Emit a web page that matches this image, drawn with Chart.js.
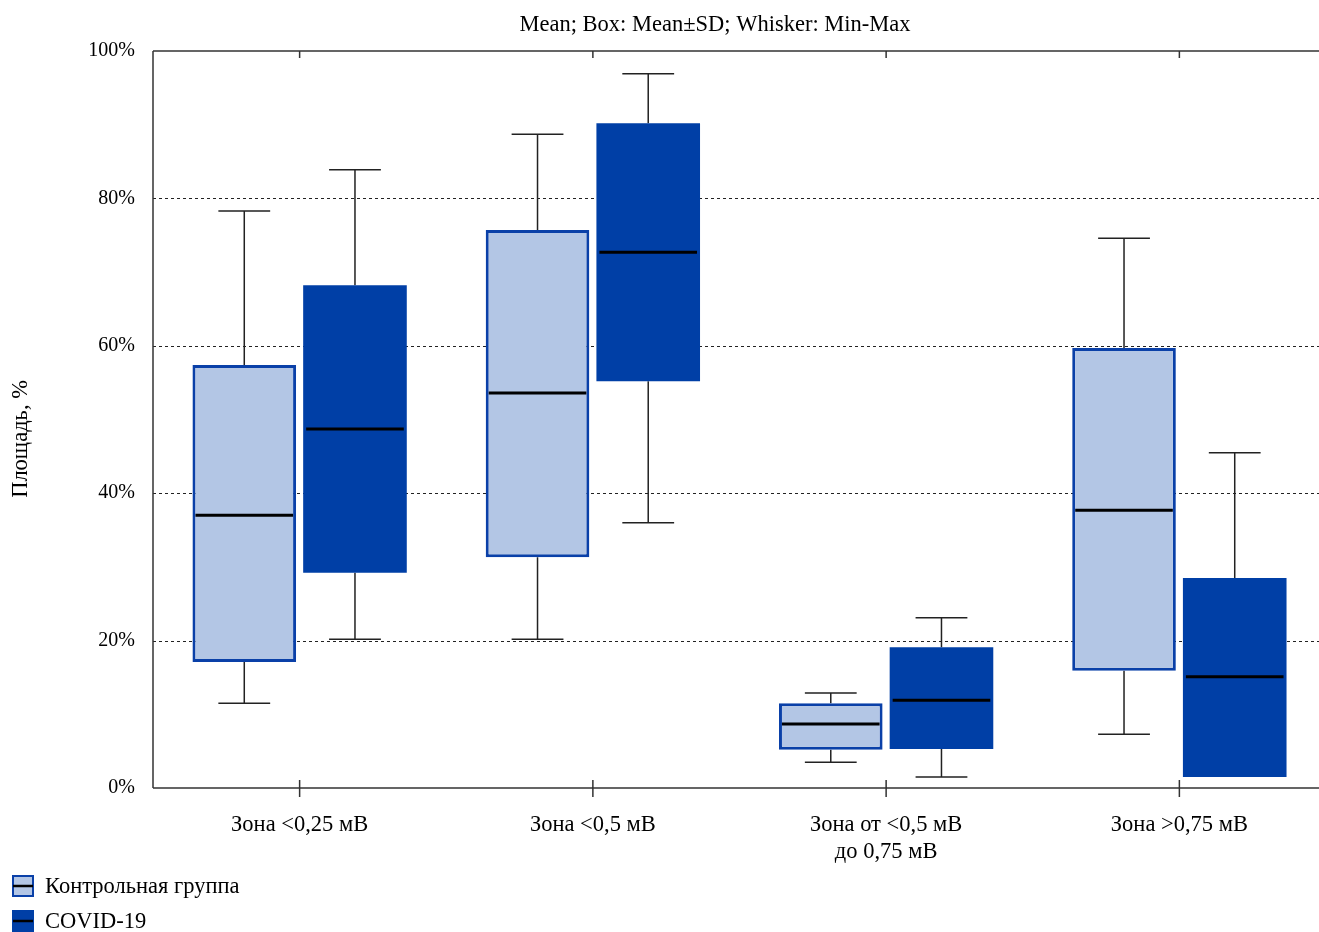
<!DOCTYPE html>
<html>
<head>
<meta charset="utf-8">
<script src="https://cdn.jsdelivr.net/npm/chart.js@4.4.1/dist/chart.umd.min.js"></script>
<style>
html,body{margin:0;padding:0;background:#fff;overflow:hidden;}
canvas{display:block;}
</style>
</head>
<body>
<canvas id="c" width="1326" height="932"></canvas>
<script>
// ---- Data ----
const categories = ['Зона <0,25 мВ', 'Зона <0,5 мВ', ['Зона от <0,5 мВ', 'до 0,75 мВ'], 'Зона >0,75 мВ'];
const seriesNames = ['Контрольная группа', 'COVID-19'];
const controlMean = [37.0, 53.6, 8.7, 37.7];
const controlSdLow = [17.1, 31.3, 5.2, 15.9];
const controlSdHigh = [57.4, 75.7, 11.5, 59.7];
const controlMin = [11.5, 20.2, 3.5, 7.3];
const controlMax = [78.3, 88.7, 12.9, 74.6];
const covidMean = [48.7, 72.7, 11.9, 15.1];
const covidSdLow = [29.2, 55.2, 5.3, 1.5];
const covidSdHigh = [68.2, 90.2, 19.1, 28.5];
const covidMin = [20.2, 36.0, 1.5, 1.5];
const covidMax = [83.9, 96.9, 23.1, 45.5];
const yTicks = [0, 20, 40, 60, 80, 100];
const chartTitle = 'Mean; Box: Mean±SD; Whisker: Min-Max';
const yTitle = 'Площадь, %';

const FONT = "'Liberation Serif', 'Times New Roman', serif";
const ctrlFill = '#b3c6e5', ctrlBorder = '#0a40a8', covidFill = '#003fa6';

const stats = [
  {mean: controlMean, min: controlMin, max: controlMax},
  {mean: covidMean, min: covidMin, max: covidMax}
];

const boxPlugin = {
  id: 'boxPlugin',
  beforeDatasetsDraw(chart) {
    const {ctx, chartArea: a, scales: {x, y}} = chart;
    ctx.save();
    // dotted grid lines
    ctx.strokeStyle = '#222';
    ctx.lineWidth = 1;
    ctx.setLineDash([3, 3]);
    yTicks.forEach(v => {
      if (v <= 0 || v >= 100) return;
      const py = Math.round(y.getPixelForValue(v)) + 0.5;
      ctx.beginPath(); ctx.moveTo(a.left, py); ctx.lineTo(a.right, py); ctx.stroke();
    });
    ctx.setLineDash([]);
    // whiskers
    ctx.strokeStyle = '#222';
    ctx.lineWidth = 1.5;
    chart.data.datasets.forEach((ds, di) => {
      const meta = chart.getDatasetMeta(di);
      meta.data.forEach((bar, i) => {
        const s = stats[di];
        const xc = bar.x;
        const cap = bar.width / 4;
        ctx.beginPath();
        if (s.max[i] > ds.data[i][1]) {
          const yMax = y.getPixelForValue(s.max[i]);
          const yHi = y.getPixelForValue(ds.data[i][1]);
          ctx.moveTo(xc, yHi); ctx.lineTo(xc, yMax);
          ctx.moveTo(xc - cap, yMax); ctx.lineTo(xc + cap, yMax);
        }
        if (s.min[i] < ds.data[i][0]) {
          const yMin = y.getPixelForValue(s.min[i]);
          const yLo = y.getPixelForValue(ds.data[i][0]);
          ctx.moveTo(xc, yLo); ctx.lineTo(xc, yMin);
          ctx.moveTo(xc - cap, yMin); ctx.lineTo(xc + cap, yMin);
        }
        ctx.stroke();
      });
    });
    ctx.restore();
  },
  afterDatasetsDraw(chart) {
    const {ctx, chartArea: a, scales: {x, y}} = chart;
    ctx.save();
    // mean lines
    ctx.strokeStyle = '#000';
    ctx.lineWidth = 3;
    chart.data.datasets.forEach((ds, di) => {
      const meta = chart.getDatasetMeta(di);
      meta.data.forEach((bar, i) => {
        const py = y.getPixelForValue(stats[di].mean[i]);
        ctx.beginPath();
        ctx.moveTo(bar.x - bar.width / 2 + 3, py);
        ctx.lineTo(bar.x + bar.width / 2 - 3, py);
        ctx.stroke();
      });
    });
    // frame
    ctx.strokeStyle = '#333';
    ctx.lineWidth = 1.5;
    ctx.beginPath();
    ctx.moveTo(a.left, a.top); ctx.lineTo(a.right, a.top);
    ctx.moveTo(a.left, a.top); ctx.lineTo(a.left, a.bottom);
    ctx.moveTo(a.left, a.bottom); ctx.lineTo(a.right, a.bottom);
    categories.forEach((c, i) => {
      const px = x.getPixelForValue(i);
      ctx.moveTo(px, a.top); ctx.lineTo(px, a.top + 7);
      ctx.moveTo(px, a.bottom - 8); ctx.lineTo(px, a.bottom + 9);
    });
    ctx.stroke();
    // title
    ctx.fillStyle = '#000';
    ctx.font = '22.5px ' + FONT;
    ctx.textAlign = 'center';
    ctx.textBaseline = 'middle';
    ctx.fillText(chartTitle, 715, 25);
    // y axis title
    ctx.save();
    ctx.translate(21, 439);
    ctx.rotate(-Math.PI / 2);
    ctx.font = '22.5px ' + FONT;
    ctx.fillText(yTitle, 0, 0);
    ctx.restore();
    // legend
    ctx.textAlign = 'left';
    ctx.font = '22.5px ' + FONT;
    const items = [
      {label: seriesNames[0], fill: ctrlFill, border: ctrlBorder, y: 886},
      {label: seriesNames[1], fill: covidFill, border: covidFill, y: 921}
    ];
    items.forEach(it => {
      ctx.fillStyle = it.fill;
      ctx.fillRect(12, it.y - 11, 22, 22);
      ctx.strokeStyle = it.border;
      ctx.lineWidth = 2;
      ctx.strokeRect(13, it.y - 10, 20, 20);
      ctx.strokeStyle = '#000';
      ctx.lineWidth = 2.5;
      ctx.beginPath(); ctx.moveTo(13, it.y); ctx.lineTo(33, it.y); ctx.stroke();
      ctx.fillStyle = '#000';
      ctx.fillText(it.label, 45, it.y + 1);
    });
    ctx.restore();
  }
};

new Chart(document.getElementById('c'), {
  type: 'bar',
  data: {
    labels: categories,
    datasets: [
      {
        label: seriesNames[0],
        data: controlSdLow.map((v, i) => [v, controlSdHigh[i]]),
        backgroundColor: ctrlFill,
        borderColor: ctrlBorder,
        borderWidth: 3,
        borderSkipped: false,
        categoryPercentage: 0.755,
        barPercentage: 0.936
      },
      {
        label: seriesNames[1],
        data: covidSdLow.map((v, i) => [v, covidSdHigh[i]]),
        backgroundColor: covidFill,
        borderColor: covidFill,
        borderWidth: 0,
        borderSkipped: false,
        categoryPercentage: 0.755,
        barPercentage: 0.936
      }
    ]
  },
  options: {
    responsive: false,
    animation: false,
    events: [],
    layout: {padding: {top: 51, right: 0, left: 0, bottom: 0}},
    plugins: {legend: {display: false}, title: {display: false}, tooltip: {enabled: false}},
    scales: {
      x: {
        grid: {display: false, drawTicks: false},
        border: {display: false},
        ticks: {font: {family: FONT, size: 22.5, lineHeight: 1.2}, color: '#000', padding: 24, maxRotation: 0, autoSkip: false},
        afterFit(s) { s.height = 144; }
      },
      y: {
        min: 0, max: 100,
        afterBuildTicks(s) { s.ticks = yTicks.map(v => ({value: v})); },
        grid: {display: false, drawTicks: false},
        border: {display: false},
        ticks: {font: {family: FONT, size: 20}, color: '#000', padding: 18, callback: v => v + '%'},
        title: {display: false},
        afterFit(s) { s.width = 153; }
      }
    }
  },
  plugins: [boxPlugin]
});
</script>
</body>
</html>
